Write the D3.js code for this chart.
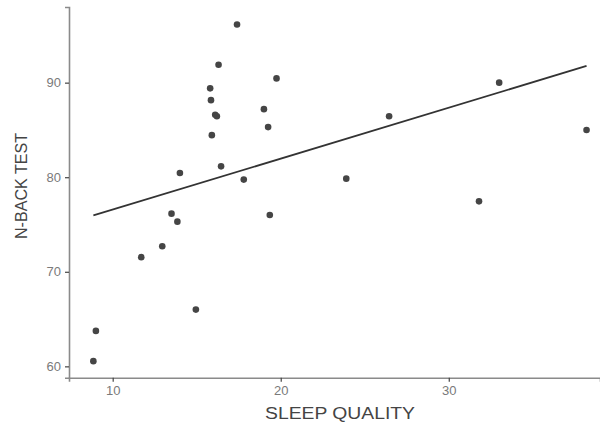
<!DOCTYPE html>
<html>
<head>
<meta charset="utf-8">
<script src="https://cdn.jsdelivr.net/npm/d3@7"></script>
<style>
  body { margin: 0; background: #fff; }
  svg { display: block; font-family: "Liberation Sans", Arial, sans-serif; }
</style>
</head>
<body>
<svg id="chart" width="600" height="423"></svg>
<script>
// sleep quality vs n-back score
const sleepQuality = [17.4, 16.3, 19.75, 15.8, 15.85, 16.1, 16.2, 19.0, 19.25, 15.9, 16.45, 14.0, 17.8, 13.5, 19.35, 13.85, 12.95, 11.7, 14.95, 9.0, 8.85, 26.45, 33.0, 38.2, 23.9, 31.8];
const nBack = [96.15, 91.9, 90.45, 89.4, 88.15, 86.6, 86.45, 87.2, 85.3, 84.45, 81.15, 80.45, 79.75, 76.15, 76.0, 75.3, 72.7, 71.55, 66.0, 63.75, 60.55, 86.45, 90.0, 85.0, 79.85, 77.45];
const xTicks = [10, 20, 30];
const yTicks = [60, 70, 80, 90];

const svg = d3.select("#chart");

const x = d3.scaleLinear().domain([7.4, 39]).range([69, 600]);
const y = d3.scaleLinear().domain([58.8, 98]).range([377.7, 7]);

const points = sleepQuality.map((v, i) => ({ x: v, y: nBack[i] }));

// least squares fit
const mx = d3.mean(points, d => d.x);
const my = d3.mean(points, d => d.y);
const slope = d3.sum(points, d => (d.x - mx) * (d.y - my)) / d3.sum(points, d => (d.x - mx) ** 2);
const icpt = my - slope * mx;
const xr = d3.extent(sleepQuality);
const fit = xr.map(v => ({ x: v, y: icpt + slope * v }));

// axes
const xAxis = svg.append("g")
  .attr("transform", `translate(0,${y.range()[0]})`)
  .call(d3.axisBottom(x).tickValues(xTicks).tickSize(4).tickPadding(4));
const yAxis = svg.append("g")
  .attr("transform", `translate(${x.range()[0]},0)`)
  .call(d3.axisLeft(y).tickValues(yTicks).tickSize(4).tickPadding(4));

[xAxis, yAxis].forEach(a => {
  a.select(".domain").attr("stroke", "#8a8a8a").attr("stroke-width", 1.6);
  a.selectAll(".tick line").attr("stroke", "#444").attr("stroke-width", 1.2);
  a.selectAll(".tick text").attr("fill", "#7a7a7a").style("font-size", "13px");
});

// points
svg.append("g")
  .selectAll("circle")
  .data(points)
  .join("circle")
  .attr("cx", d => x(d.x))
  .attr("cy", d => y(d.y))
  .attr("r", 3.3)
  .attr("fill", "#454545");

// regression line
svg.append("path")
  .datum(fit)
  .attr("fill", "none")
  .attr("stroke", "#333")
  .attr("stroke-width", 1.8)
  .attr("d", d3.line().x(d => x(d.x)).y(d => y(d.y)));

// axis titles (the source image is a bit stretched sideways)
svg.append("text")
  .attr("x", 340)
  .attr("y", 419)
  .attr("text-anchor", "middle")
  .attr("fill", "#444")
  .attr("textLength", 150)
  .attr("lengthAdjust", "spacingAndGlyphs")
  .style("font-size", "16px")
  .text("SLEEP QUALITY");

svg.append("text")
  .attr("transform", "translate(27,186) rotate(-90)")
  .attr("text-anchor", "middle")
  .attr("fill", "#444")
  .attr("textLength", 106)
  .attr("lengthAdjust", "spacingAndGlyphs")
  .style("font-size", "17px")
  .text("N-BACK TEST");
</script>
</body>
</html>
